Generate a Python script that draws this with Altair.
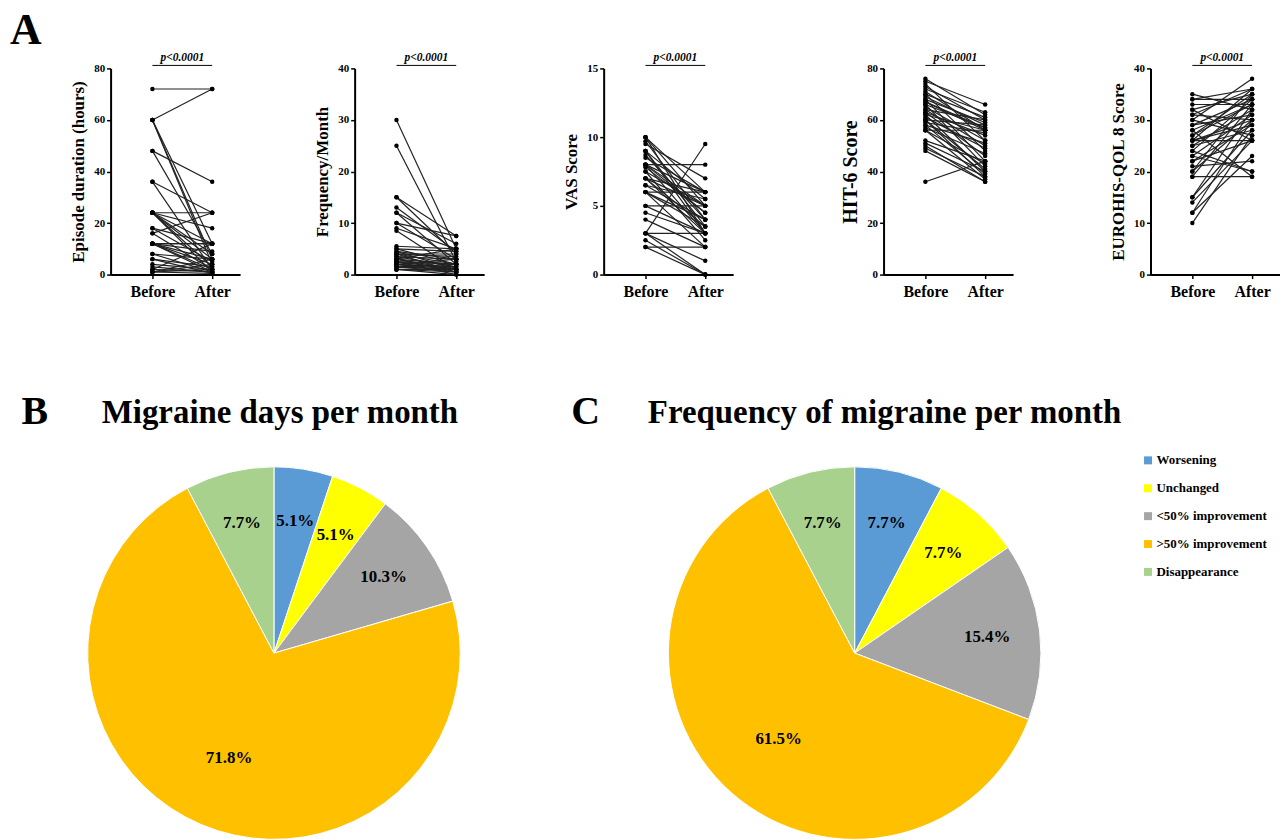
import altair as alt
import pandas as pd

FONT = "Liberation Serif"
TIMES = ["Before", "After"]

# ---- Panel A data (39 paired patients) ----
dur_before = [72, 60, 60, 60, 60, 48, 48, 36, 36, 24, 24, 24, 24, 24, 24, 18, 18, 16, 16,
              12, 12, 12, 12, 12, 12, 12, 8, 8, 6, 6, 4, 3, 2, 2, 1, 1, 1, 1, 24]
dur_after = [72, 72, 12, 6, 4, 36, 8, 24, 2, 24, 12, 6, 3, 1, 18, 12, 5, 24, 2,
             12, 12, 6, 4, 2, 1, 9, 6, 1, 3, 0.5, 2, 1, 12, 1, 6, 4, 0.5, 2, 8]

freq_before = [30, 25, 15, 15, 13, 12, 12, 10, 10, 9, 8.5, 5.5, 5, 5, 4.5, 4.5, 4, 4, 4, 3.5,
               3.5, 3, 3, 3, 3, 2.5, 2.5, 2.5, 2, 2, 2, 2, 1.5, 1.5, 1.5, 1, 1, 1, 4]
freq_after = [5, 2.5, 7.5, 4, 4.5, 6, 2, 7.5, 3, 5, 1, 5, 2, 4.5, 3, 1, 4, 2, 0.5, 3,
              1.5, 5, 1, 2, 0.5, 2, 1, 0, 1.5, 0.5, 3, 1, 1, 0.5, 2, 0.5, 1, 0, 3.5]

vas_before = [10, 10, 10, 9.7, 9.5, 9, 9, 8.7, 8.5, 8, 8, 8, 8, 7.8, 7.5, 7.5, 7, 7, 7, 6.5,
              6.5, 6, 6, 6, 5, 5, 4.5, 4, 3, 3, 3, 3, 2.5, 2, 2, 8, 7, 6, 9]
vas_after = [6, 5, 3, 4, 7, 5.5, 3.5, 4, 6, 8, 5, 3, 6, 4.5, 5, 2.5, 5, 3, 6, 4,
             5.5, 6, 2, 3.5, 5, 3, 3, 2, 9.5, 3, 0, 1, 0, 2, 0, 4.5, 3.5, 4, 3]

hit_before = [76, 75, 74, 73, 72, 71, 70, 70, 69, 68, 68, 67, 66, 66, 65, 64, 64, 63, 62, 62,
              61, 60, 60, 60, 59, 58, 58, 57, 56, 56, 56, 52, 51, 50, 49, 48, 36, 63, 67]
hit_after = [62, 66, 52, 60, 63, 56, 61, 48, 58, 59, 44, 56, 57, 42, 52, 60, 50, 46, 56, 40,
             49, 58, 41, 38, 55, 51, 39, 47, 56, 43, 37, 44, 40, 36, 38, 36, 44, 54, 57]

qol_before = [35, 34, 34, 33, 32, 32, 31, 30, 30, 29, 29, 28, 28, 27, 26, 26, 26, 26, 25, 25,
              24, 24, 23, 22, 22, 21, 20, 20, 19, 19, 15, 15, 14, 12, 12, 10, 31, 27, 23]
qol_after = [32, 34, 36, 33, 26, 35, 30, 38, 27, 31, 34, 33, 19, 35, 26, 36, 30, 29, 32, 28,
             34, 20, 31, 26, 29, 22, 35, 30, 19, 33, 28, 32, 26, 23, 30, 27, 36, 33, 20]

# ---- Panels B / C data ----
CATS = ["Worsening", "Unchanged", "<50% improvement", ">50% improvement", "Disappearance"]
COLORS = ["#5B9BD5", "#FFFF00", "#A5A5A5", "#FFC000", "#A9D18E"]
days_pct = [5.1, 5.1, 10.3, 71.8, 7.7]
freq_pct = [7.7, 7.7, 15.4, 61.5, 7.7]

W, H = 130, 207


def paired_panel(title, before, after, ymax, ticks, title_size=17):
    rows = []
    for i, (b, a) in enumerate(zip(before, after)):
        rows.append({"id": i, "time": "Before", "value": b})
        rows.append({"id": i, "time": "After", "value": a})
    df = pd.DataFrame(rows)
    xscale = alt.Scale(type="point", domain=TIMES, padding=0.5833, align=0.6)
    xaxis = alt.Axis(title=None, labelAngle=0, labelFont=FONT, labelFontSize=16,
                     labelFontWeight="bold", labelColor="black", labelPadding=5,
                     domainColor="black", domainWidth=2, tickColor="black", tickWidth=1.5,
                     tickSize=4, grid=False)
    yaxis = alt.Axis(values=ticks, title=title, titleFont=FONT, titleFontSize=title_size,
                     titleFontWeight="bold", titleColor="black", titlePadding=6,
                     labelFont=FONT, labelFontSize=11, labelFontWeight="bold",
                     labelColor="black", labelPadding=2, domainColor="black", domainWidth=2,
                     tickColor="black", tickWidth=1.5, tickSize=4, grid=False)
    x = alt.X("time:N", sort=TIMES, scale=xscale, axis=xaxis)
    y = alt.Y("value:Q", scale=alt.Scale(domain=[0, ymax], nice=False), axis=yaxis)
    base = alt.Chart(df)
    lines = base.mark_line(color="#222222", strokeWidth=1.2).encode(x=x, y=y, detail="id:N")
    dots = base.mark_circle(color="black", size=20, opacity=1).encode(x=x, y=y)
    ann = alt.Chart(pd.DataFrame({"label": ["p<0.0001"]}))
    bracket = ann.mark_rule(color="black", strokeWidth=1).encode(
        x=alt.datum("Before"), x2=alt.datum("After"), y=alt.value(-3))
    ptext = ann.mark_text(font=FONT, fontSize=11.5, fontWeight="bold", fontStyle="italic",
                          color="black", align="center", baseline="middle", dx=30).encode(
        x=alt.datum("Before"), y=alt.value(-10), text="label:N")
    return alt.layer(lines, dots, bracket, ptext).properties(width=W, height=H)


def spacer(w):
    return alt.Chart(pd.DataFrame({"t": [""]})).mark_text().encode(
        text="t:N").properties(width=w, height=H)


p1 = paired_panel("Episode duration (hours)", dur_before, dur_after, 80, [0, 20, 40, 60, 80])
p2 = paired_panel("Frequency/Month", freq_before, freq_after, 40, [0, 10, 20, 30, 40])
p3 = paired_panel("VAS Score", vas_before, vas_after, 15, [0, 5, 10, 15])
p4 = paired_panel("HIT-6 Score", hit_before, hit_after, 80, [0, 20, 40, 60, 80], title_size=20)
p5 = paired_panel("EUROHIS-QOL 8 Score", qol_before, qol_after, 40, [0, 10, 20, 30, 40])

a_chart = alt.Chart(pd.DataFrame({"t": ["A"]})).mark_text(
    font=FONT, fontSize=44, fontWeight="bold", color="black", align="center",
    baseline="middle").encode(x=alt.value(-62), y=alt.value(-37), text="t:N").properties(
    width=23, height=H)

top_row = alt.hconcat(a_chart, p1, spacer(115), p2, spacer(120), p3, spacer(151), p4,
                      spacer(138), p5, spacing=0, bounds="flush")

LEGEND = alt.Legend(title=None, orient="none", legendX=1058, legendY=387,
                    symbolType="square", symbolSize=64, symbolStrokeWidth=0,
                    labelFont=FONT, labelFontSize=13, labelFontWeight="bold",
                    labelColor="black", rowPadding=14, labelOffset=2, padding=0)

R = 187


def pie(pcts, title, letter, title_x, letter_x):
    df = pd.DataFrame({"cat": CATS, "pct": pcts, "k": list(range(len(CATS)))})
    base = alt.Chart(df)
    arcs = base.mark_arc(outerRadius=R, stroke="white", strokeWidth=1).encode(
        theta=alt.Theta("pct:Q", stack=True),
        color=alt.Color("cat:N", scale=alt.Scale(domain=CATS, range=COLORS), legend=LEGEND),
        order=alt.Order("k:Q"))
    labels = base.transform_window(
        cum="sum(pct)", sort=[alt.SortField("k")], frame=[None, 0]
    ).transform_joinaggregate(total="sum(pct)").transform_calculate(
        mid="(datum.cum - datum.pct / 2) / datum.total * 2 * PI",
        lr="datum.pct > 50 ? 115 : 134",
        lbl="format(datum.pct, '.1f') + '%'",
    ).mark_text(font=FONT, fontSize=17, fontWeight="bold", color="black").encode(
        theta=alt.Theta("mid:Q", scale=None),
        radius=alt.Radius("lr:Q", scale=None),
        text="lbl:N")
    heads = alt.Chart(pd.DataFrame({"t": [title]})).mark_text(
        font=FONT, fontSize=33, fontWeight="bold", color="black", align="center",
        baseline="middle").encode(x=alt.value(title_x), y=alt.value(-54), text="t:N")
    let = alt.Chart(pd.DataFrame({"t": [letter]})).mark_text(
        font=FONT, fontSize=40, fontWeight="bold", color="black", align="center",
        baseline="middle").encode(x=alt.value(letter_x), y=alt.value(-55), text="t:N")
    return alt.layer(arcs, labels, heads, let).properties(width=2 * R, height=2 * R)


pie_b = pie(days_pct, "Migraine days per month", "B", 193, -53)
pie_c = pie(freq_pct, "Frequency of migraine per month", "C", 217, -83)
bottom_row = alt.hconcat(pie_b, pie_c, spacing=209, bounds="flush")

chart = alt.vconcat(top_row, bottom_row, spacing=400, bounds="flush").properties(
    padding={"left": 2, "top": 0, "right": 0, "bottom": 0},
    background="white",
).configure_view(stroke=None)

chart.save("out.html", embed_options={"renderer": "svg", "actions": False})
